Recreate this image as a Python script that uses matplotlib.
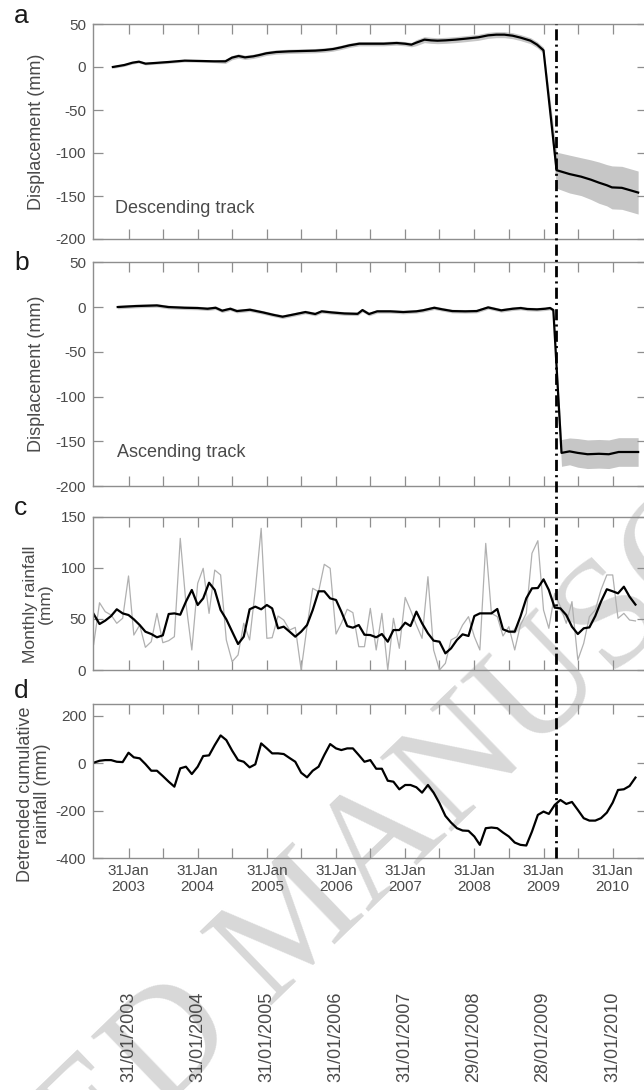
import numpy as np
import pandas as pd
import matplotlib
matplotlib.use('Agg')
import matplotlib.pyplot as plt
import matplotlib.transforms as mtransforms
from matplotlib.lines import Line2D

plt.rcParams['font.family'] = ['Liberation Sans', 'DejaVu Sans']
plt.rcParams['axes.unicode_minus'] = False

# ---------------- data (x in decimal years) ----------------
desc_t = [2002.856, 2003.021, 2003.139, 2003.233, 2003.328, 2003.470, 2003.658, 2003.894,
          2004.129, 2004.319, 2004.483, 2004.578, 2004.673, 2004.766, 2004.885, 2004.978,
          2005.073, 2005.215, 2005.403, 2005.592, 2005.781, 2005.922, 2006.040, 2006.158,
          2006.276, 2006.417, 2006.583, 2006.771, 2006.959, 2007.078, 2007.172, 2007.242,
          2007.361, 2007.455, 2007.549, 2007.667, 2007.808, 2007.950, 2008.139, 2008.281,
          2008.399, 2008.516, 2008.635, 2008.752, 2008.894, 2008.988, 2009.082,
          2009.271, 2009.459, 2009.625, 2009.766, 2009.884, 2009.997, 2010.072, 2010.214,
          2010.365, 2010.450]
desc_mm = [0, 2.3, 5.0, 6.2, 3.9, 4.7, 5.8, 7.4, 7.0, 6.6, 6.6, 10.9, 12.8, 11.2, 12.4, 14.0,
           15.9, 17.4, 18.2, 18.6, 19.0, 19.8, 20.9, 22.9, 25.2, 27.1, 27.1, 27.1, 27.9, 27.1,
           26.0, 28.3, 31.8, 31.0, 30.6, 31.0, 31.8, 32.9, 34.5, 36.8, 37.6, 37.6, 36.4, 34.1,
           30.6, 26.0, 19.4,
           -120, -124.5, -127.5, -131, -134.5, -137.5, -140, -140.5, -144, -146]
desc_err = [1.5] * 10 + [2.5] * 21 + [3.5] * 16 + [21, 22, 22, 23, 24, 24, 25, 25, 25, 25]

asc_t = [2002.926, 2003.187, 2003.492, 2003.658, 2003.894, 2004.082, 2004.224, 2004.341,
         2004.436, 2004.554, 2004.649, 2004.837, 2005.026, 2005.168, 2005.309, 2005.451,
         2005.639, 2005.781, 2005.875, 2006.017, 2006.205, 2006.394, 2006.464, 2006.559,
         2006.677, 2006.866, 2007.054, 2007.242, 2007.337, 2007.502, 2007.620, 2007.762,
         2007.950, 2008.115, 2008.281, 2008.470, 2008.635, 2008.752, 2008.847, 2008.988,
         2009.106, 2009.177, 2009.224,
         2009.342, 2009.459, 2009.577, 2009.719, 2009.884, 2010.026, 2010.168, 2010.365, 2010.450]
asc_mm = [0, 1.1, 1.8, 0, -0.8, -1.1, -1.9, -0.8, -4.1, -1.9, -4.5, -3.0, -6.0, -8.6, -10.8,
          -8.6, -5.6, -7.8, -4.8, -6.0, -7.2, -7.6, -3.4, -7.8, -4.8, -4.8, -5.6, -4.8, -3.7,
          -0.8, -2.6, -4.5, -4.8, -4.5, -0.4, -3.7, -1.9, -1.1, -2.2, -2.6, -1.9, -1.1, -3.4,
          -163, -161.3, -163, -164.5, -164, -164.5, -162, -162, -162]
asc_err = [2.0] * 43 + [15, 15, 16, 16, 16, 16, 16, 16, 16]

# monthly series, first month = end of July 2002
rain_first_month = '2002-07-31'
rain_monthly = [25, 65.8, 57.1, 53.8, 45.7, 50.6, 92, 34.2, 44, 22.2, 27.7, 55.4, 26.7, 28.7,
                32.6, 128.8, 65.2, 19.6, 84.8, 99.5, 55.4, 97.8, 93, 29.4, 8.2, 14.7, 45.7,
                29.4, 78.3, 138.6, 31, 31.6, 52.8, 48.9, 39.1, 41.7, 0, 42.4, 79.9, 76.6,
                103.4, 99.5, 35.2, 45.7, 59.4, 56.1, 22.8, 22.8, 60.3, 19.6, 55.4, 0, 50.6,
                21.2, 71, 58.7, 44, 31, 91.3, 19.6, 0, 6.5, 29.4, 32.6, 44, 52.2, 32.6, 19.6,
                123.9, 55.4, 52.2, 33.3, 42.4, 19.6, 44, 55.4, 114.2, 126.5, 58.7, 40.8, 75,
                62, 45.7, 66.9, 9.8, 26.1, 52.2, 58.7, 78.3, 93, 93, 50.6, 55.4, 48.9, 48]
rain_smooth = [54.8, 45, 48.3, 52.8, 59.4, 55.4, 53.8, 49.6, 44, 37.5, 35.2, 32, 33.9, 54.8,
               55.4, 54.1, 66.9, 78.3, 63.6, 70.1, 85.4, 78.3, 58.7, 49.6, 37.5, 25.4, 32.6,
               59.4, 62, 59.4, 63.6, 60.3, 40.8, 42.4, 37.5, 32.6, 37.5, 44, 58.7, 77, 77,
               70.1, 68.5, 57.1, 43, 41.4, 44, 34.5, 34.2, 32, 35.2, 27.7, 39.1, 39.1, 46.3,
               43, 57.1, 45.7, 35.9, 28.7, 27.7, 16.3, 21.2, 29.4, 34.9, 33.3, 52.8, 55.4,
               55.4, 55.4, 59.7, 39.8, 37.5, 37.5, 52.2, 70.1, 79.9, 80.2, 88.7, 78.3, 61,
               60.3, 53.8, 42.4, 35.2, 40.8, 41.7, 52.8, 66.9, 79, 77, 75, 81.5, 71.7, 64]
cum_rain = [2.7, 10.9, 13.7, 13.7, 6.7, 5.3, 44.7, 25.3, 21.1, -2.9, -31.1, -31.1, -53.5,
            -77.3, -98.3, -21.1, -14.1, -45.1, -14.1, 30.8, 33.6, 76.9, 117.6, 98, 53.2, 13.7,
            6.7, -16.9, -4.2, 84, 63, 42, 42, 39.2, 22.4, 6.7, -39.5, -58.9, -31.1, -14.1, 35,
            81.2, 63, 56, 63, 63, 35, 6.7, 13.7, -22.7, -22.7, -73.2, -77.3, -109.4, -91.2,
            -91.2, -100.8, -123.4, -91.2, -123.4, -168.1, -221.3, -249.4, -273.2, -283,
            -284.4, -308.2, -343.3, -273.2, -270.4, -273.2, -291.4, -308.2, -333.6, -343.3,
            -346.1, -287.4, -217.2, -203.2, -212.9, -175.2, -154.2, -171, -162.6, -196.2,
            -231.1, -241.2, -241.2, -231.1, -207.6, -165.5, -112.2, -109.2, -95.4, -60]

quake_date = '2009-04-06'
tick_years = [2003, 2004, 2005, 2006, 2007, 2008, 2009, 2010]
acq_labels = ['31/01/2003', '31/01/2004', '31/01/2005', '31/01/2006', '31/01/2007',
              '29/01/2008', '28/01/2009', '31/01/2010']


def decyear(ts):
    ts = pd.Timestamp(ts)
    return ts.year + (ts.dayofyear - 1) / 365.0


months = pd.date_range(rain_first_month, periods=len(cum_rain), freq=pd.offsets.MonthEnd())
t_month = np.array([decyear(m) for m in months])
quake = decyear(quake_date)

# half-year ticks (31 Jan / 31 Jul), labels on the January ones
xticks, xlabels = [], []
for y in tick_years:
    xticks += [decyear(f'{y}-01-31'), decyear(f'{y}-07-31')]
    xlabels += [f'31Jan\n{y}', '']

GREY = '#8e8e8e'
TXT = '#4a4a4a'
BAND = '#c6c6c6'
XLIM = (2002.573, 2010.408)

W, H = 644, 1090
fig = plt.figure(figsize=(W / 100, H / 100), dpi=100)


def add_panel(top, bottom):
    left, right = 93.3, 647.0
    return fig.add_axes([left / W, 1 - bottom / H, (right - left) / W, (bottom - top) / H])


def style(ax, ylim, yticks, show_x=False):
    ax.set_facecolor('none')
    ax.set_xlim(*XLIM)
    ax.set_ylim(*ylim)
    ax.set_yticks(yticks)
    ax.set_xticks(xticks)
    ax.set_xticklabels(xlabels if show_x else [''] * len(xticks))
    ax.tick_params(direction='in', length=7, width=0.9, color=GREY, top=True, right=True,
                   labelsize=11, labelcolor=TXT, pad=5)
    ax.tick_params(axis='x', pad=4)
    for s in ax.spines.values():
        s.set_color(GREY)
        s.set_linewidth(1.0)


ax_a = add_panel(24, 239)
ax_b = add_panel(262.3, 486)
ax_c = add_panel(516.7, 670)
ax_d = add_panel(704, 858.3)

# a - descending track
t, v, e = np.array(desc_t), np.array(desc_mm), np.array(desc_err)
ax_a.fill_between(t, v - e, v + e, color=BAND, lw=0)
ax_a.plot(t, v, color='black', lw=1.6)
style(ax_a, (-200, 50), [50, 0, -50, -100, -150, -200])
ax_a.text(0.039, 0.121, 'Descending track', transform=ax_a.transAxes, fontsize=13,
          color=TXT, va='baseline')
ax_a.set_ylabel('Displacement (mm)', fontsize=13, color=TXT)
ax_a.yaxis.set_label_coords(-0.087, 0.5)

# b - ascending track
t, v, e = np.array(asc_t), np.array(asc_mm), np.array(asc_err)
ax_b.fill_between(t, v - e, v + e, color=BAND, lw=0)
ax_b.plot(t, v, color='black', lw=1.6)
style(ax_b, (-200, 50), [50, 0, -50, -100, -150, -200])
ax_b.text(0.043, 0.131, 'Ascending track', transform=ax_b.transAxes, fontsize=13,
          color=TXT, va='baseline')
ax_b.set_ylabel('Displacement (mm)', fontsize=13, color=TXT)
ax_b.yaxis.set_label_coords(-0.087, 0.5)

# c - monthly rainfall
n = len(rain_monthly)
ax_c.plot(t_month[:n], rain_monthly, color='#b0b0b0', lw=0.9)
ax_c.plot(t_month[:n], rain_smooth, color='black', lw=1.6)
style(ax_c, (0, 150), [0, 50, 100, 150])
ax_c.set_ylabel('Monthly rainfall\n(mm)', fontsize=12.5, color=TXT, linespacing=1.0)
ax_c.yaxis.set_label_coords(-0.073, 0.43)

# d - detrended cumulative rainfall
ax_d.plot(t_month, cum_rain, color='black', lw=1.6)
style(ax_d, (-400, 250), [200, 0, -200, -400], show_x=True)
ax_d.set_ylabel('Detrended cumulative\nrainfall (mm)', fontsize=13, color=TXT, linespacing=1.05)
ax_d.yaxis.set_label_coords(-0.076, 0.417)

# panel letters
for lab, yb in zip('abcd', [23, 270, 515, 698]):
    fig.text(14 / W, 1 - yb / H, lab, fontsize=19, color='#1a1a1a', va='baseline')

# earthquake line running through all panels
xq = fig.transFigure.inverted().transform(ax_a.transData.transform((quake, 0)))[0]
fig.add_artist(Line2D([xq, xq], [1 - 858.3 / H, 1 - 24 / H], transform=fig.transFigure,
                      color='black', lw=2.0, linestyle=(0, (4, 1.5, 0.75, 1.5)), zorder=5))

# image acquisition dates, rotated, below the panels
trans = mtransforms.blended_transform_factory(ax_d.transData, fig.transFigure)
for lab in acq_labels:
    d, m, y = lab.split('/')
    ax_d.text(decyear(f'{y}-{m}-{d}'), 8 / H, lab, transform=trans, rotation=90,
              ha='center', va='bottom', fontsize=13, color=TXT, clip_on=False)

# faint watermark of the source page
fig.text(0.466, 0.151, 'ACCEPTED MANUSCRIPT', fontsize=112, family='Liberation Serif',
         color='#d8d8d8', rotation=44, ha='center', va='center', zorder=-1)

fig.savefig('out.png', dpi=100)
